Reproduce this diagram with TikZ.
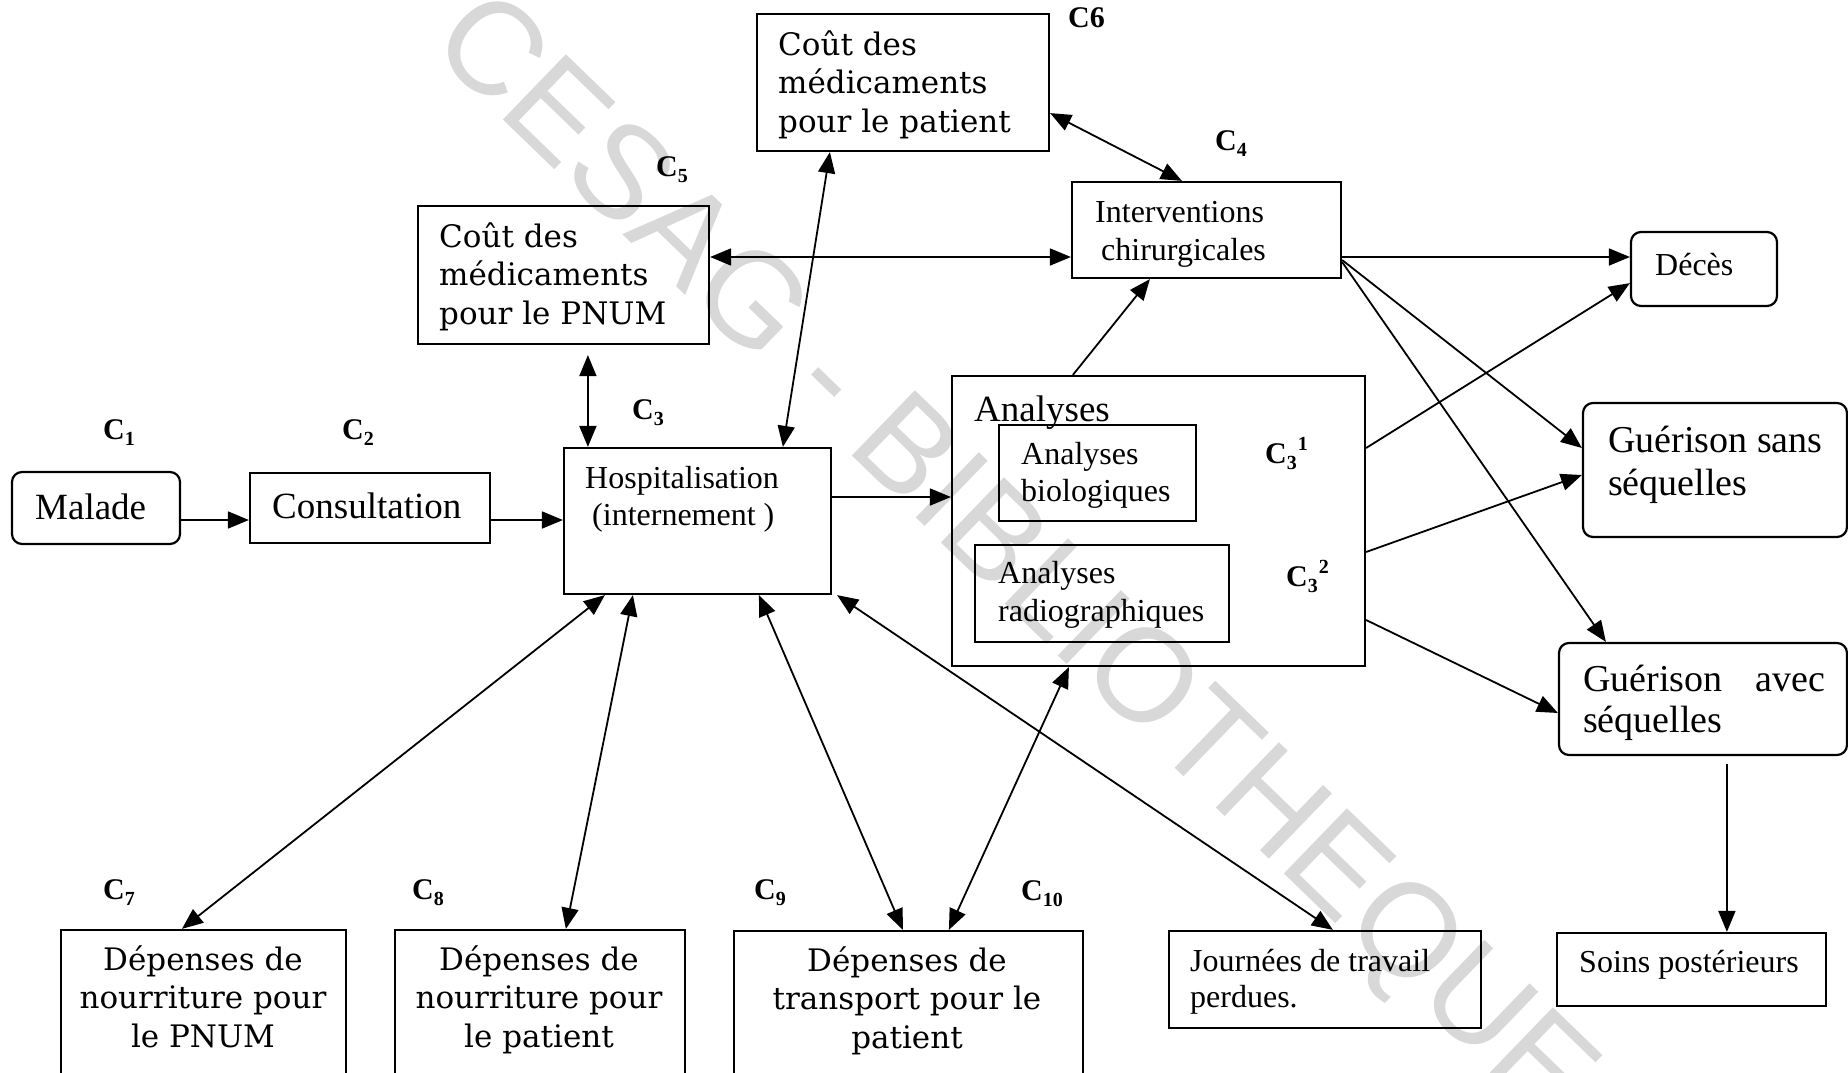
\documentclass[tikz,border=0pt]{standalone}
\usepackage{fontspec}
\setmainfont{Liberation Serif}
\newfontfamily\bk{DejaVu Serif}
\newfontfamily\wmf{Liberation Sans}
\newfontfamily\lbf{Liberation Serif}
\usetikzlibrary{arrows.meta,calc}
\definecolor{wmgray}{RGB}{216,216,216}
\newcommand\Cs[1]{C\raisebox{-6pt}{\fontsize{20}{20}\selectfont #1}}
\newcommand\Css[2]{C\raisebox{-6pt}{\fontsize{20}{20}\selectfont #1}\kern1pt\raisebox{13pt}{\fontsize{20}{20}\selectfont #2}}
\begin{document}
\begin{tikzpicture}[x=1pt,y=-1pt,
  box/.style={draw, line width=2.2pt, inner sep=0pt},
  rbox/.style={box, rounded corners=10pt},
  txt/.style={inner sep=0pt, align=left},
  tms/.style={txt, font=\fontsize{32}{37}\selectfont},
  tml/.style={txt, font=\fontsize{37}{43}\selectfont},
  bks/.style={txt, font=\bk\fontsize{31}{38.5}\selectfont},
  lab/.style={inner sep=0pt, anchor=base west, font=\lbf\bfseries\fontsize{30}{30}\selectfont},
  wmk/.style={inner sep=0pt, rotate=-44, text=wmgray, font=\wmf\fontsize{132}{132}\selectfont},
  arr/.style={line width=1.8pt, -{Triangle[length=21pt,width=17pt]}},
  darr/.style={line width=1.8pt, {Triangle[length=21pt,width=17pt]}-{Triangle[length=21pt,width=17pt]}}]
\useasboundingbox (0,0) rectangle (1848,1073);
\fill[white] (0,0) rectangle (1848,1073);

% watermark
\node[wmk] (wm) at (1010,562) {CESAG - BIBLIOTHEQUE};

% boxes
\node[rbox, minimum width=168pt, minimum height=72pt] (malade) at (96,508) {};
\node[box, minimum width=240pt, minimum height=70pt] (consult) at (370,508) {};
\node[box, minimum width=267pt, minimum height=146pt] (hosp) at (697.5,521) {};
\node[box, minimum width=291pt, minimum height=138pt] (pnum) at (563.5,275) {};
\node[box, minimum width=292pt, minimum height=137pt] (patmed) at (903,82.5) {};
\node[box, minimum width=269pt, minimum height=96pt] (interv) at (1206.5,230) {};
\node[rbox, minimum width=146pt, minimum height=74pt] (deces) at (1704,269) {};
\node[box, minimum width=413pt, minimum height=290pt] (anal) at (1158.5,521) {};
\node[box, minimum width=197pt, minimum height=96pt] (bio) at (1097.5,473) {};
\node[box, minimum width=254pt, minimum height=97pt] (radio) at (1102,593.5) {};
\node[rbox, minimum width=264pt, minimum height=134pt] (gsans) at (1715,470) {};
\node[rbox, minimum width=288pt, minimum height=112pt] (gavec) at (1703,699) {};
\node[box, minimum width=269pt, minimum height=73pt] (soins) at (1691.5,969.5) {};
\node[box, minimum width=312pt, minimum height=97pt] (journ) at (1325,979.5) {};
\node[box, minimum width=349pt, minimum height=159pt] (transp) at (908.5,1010.5) {};
\node[box, minimum width=285pt, minimum height=160pt] (dpnum) at (203.5,1010) {};
\node[box, minimum width=290pt, minimum height=160pt] (dpat) at (540,1010) {};

% texts
\node[tml, anchor=base west] (tmalade) at (35,519) {Malade};
\node[tml, anchor=base west] (tconsult) at (272,518) {Consultation};
\node[tms, anchor=north west] (thosp) at (585,462) {\strut Hospitalisation\\\hspace*{7pt}(internement )};
\node[bks, anchor=north west] (tpnum) at (439,220) {\strut Coût des\\médicaments\\pour le PNUM};
\node[bks, anchor=north west] (tpatmed) at (778,28) {\strut Coût des\\médicaments\\pour le patient};
\node[txt, font=\fontsize{32}{38}\selectfont, anchor=north west] (tinterv) at (1095,195.4) {\strut Interventions\\\hspace*{6pt}chirurgicales};
\node[tms, anchor=base west] (tdeces) at (1655,275) {Décès};
\node[tml, anchor=base west] (tanal) at (974,421) {Analyses};
\node[tms, anchor=north west] (tbio) at (1021,438) {\strut Analyses\\biologiques};
\node[txt, font=\fontsize{32}{38}\selectfont, anchor=north west] (tradio) at (998,557) {\strut Analyses\\radiographiques};
\node[txt, font=\fontsize{38}{43}\selectfont, anchor=north west] (tgsans) at (1608,422) {\strut Guérison sans\\séquelles};
\node[txt, font=\fontsize{38}{41}\selectfont, anchor=north west] (tgavec) at (1583,663) {\strut\hbox to 242pt{Guérison\hfill avec}\\séquelles};
\node[tms, anchor=base west] (tsoins) at (1579,972) {Soins postérieurs};
\node[txt, font=\fontsize{32}{36}\selectfont, anchor=north west] (tjourn) at (1190,946) {\strut Journées de travail\\perdues.};
\node[bks, align=center, anchor=north] (tdpnum) at (203,943) {\strut Dépenses de\\nourriture pour\\le PNUM};
\node[bks, align=center, anchor=north] (tdpat) at (539,943) {\strut Dépenses de\\nourriture pour\\le patient};
\node[bks, align=center, anchor=north] (ttransp) at (907,944) {\strut Dépenses de\\transport pour le\\patient};

% labels
\node[lab] (c1) at (103,439) {\Cs{1}};
\node[lab] (c2) at (342,439) {\Cs{2}};
\node[lab] (c3) at (632,419) {\Cs{3}};
\node[lab] (c5) at (656,176) {\Cs{5}};
\node[lab] (c6) at (1068,28) {C6};
\node[lab] (c4) at (1215,150) {\Cs{4}};
\node[lab] (c31) at (1265,463) {\Css{3}{1}};
\node[lab] (c32) at (1286,586) {\Css{3}{2}};
\node[lab] (c7) at (103,899) {\Cs{7}};
\node[lab] (c8) at (412,899) {\Cs{8}};
\node[lab] (c9) at (754,899) {\Cs{9}};
\node[lab] (c10) at (1021,900) {\Cs{10}};

% connectors
\draw[arr] ($(malade.east)+(0,12)$) -- ($(consult.west)+(0,12)$);
\draw[arr] ($(consult.east)+(0,12)$) -- ($(hosp.west)+(0,-1)$);
\draw[arr] ($(hosp.east)+(0,-24)$) -- ($(anal.west)+(0,-24)$);
\draw[darr] ($(pnum.south west)+(171,10)$) -- ($(hosp.north west)+(25,0)$);
\draw[darr] ($(patmed.south west)+(74,0)$) -- ($(hosp.north west)+(220,0)$);
\draw[darr] ($(pnum.east)+(0,-18)$) -- ($(interv.west)+(0,27)$);
\draw[darr] ($(patmed.south east)+(0,-39)$) -- ($(interv.north west)+(111,0)$);
\draw[arr] ($(anal.north west)+(122,0)$) -- ($(interv.south west)+(79,0)$);
\draw[arr] ($(interv.east)+(0,27)$) -- ($(deces.west)+(0,-12)$);
\draw[arr] ($(interv.east)+(0,30)$) -- ($(gsans.west)+(0,-22)$);
\draw[arr] ($(interv.east)+(0,32)$) -- ($(gavec.north west)+(48,0)$);
\draw[arr] ($(anal.east)+(0,-73)$) -- ($(deces.south west)+(0,-24)$);
\draw[arr] ($(anal.east)+(0,31)$) -- ($(gsans.west)+(0,5)$);
\draw[arr] ($(anal.east)+(0,99)$) -- ($(gavec.west)+(0,14)$);
\draw[arr] ($(gavec.south west)+(169,8)$) -- ($(soins.north west)+(171,0)$);
\draw[darr] ($(hosp.south west)+(42,0)$) -- ($(dpnum.north west)+(122,0)$);
\draw[darr] ($(hosp.south west)+(70,0)$) -- ($(dpat.north west)+(172,0)$);
\draw[darr] ($(hosp.south west)+(196,0)$) -- ($(transp.north west)+(170,0)$);
\draw[darr] ($(anal.south west)+(118,0)$) -- ($(transp.north west)+(216,0)$);
\draw[darr] ($(hosp.south east)+(5,0)$) -- ($(journ.north west)+(165,0)$);
\end{tikzpicture}
\end{document}
